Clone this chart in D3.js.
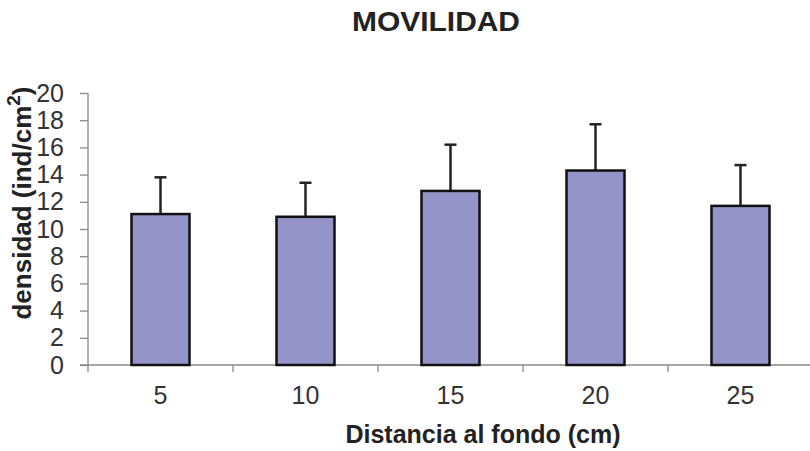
<!DOCTYPE html>
<html>
<head>
<meta charset="utf-8">
<script src="https://cdn.jsdelivr.net/npm/d3@7"></script>
<style>
  html, body { margin: 0; padding: 0; background: #fff; }
  svg { display: block; font-family: "Liberation Sans", Arial, sans-serif; }
</style>
</head>
<body>
<svg id="chart" width="810" height="451"></svg>
<script>
const categories = ["5", "10", "15", "20", "25"];
const values = [11.1, 10.9, 12.8, 14.3, 11.7];
const errors = [2.7, 2.5, 3.4, 3.4, 3.0];
const yTicks = [0, 2, 4, 6, 8, 10, 12, 14, 16, 18, 20];

(function () {
const svg = d3.select("#chart");
const plotLeft = 88, plotRight = 813, plotTop = 93, plotBottom = 365;

const xBand = d3.scaleBand().domain(categories).range([plotLeft, plotRight]).paddingInner(0).paddingOuter(0);
const xBar = d3.scaleBand().domain(categories).range([plotLeft, plotRight]).paddingInner(0.6).paddingOuter(0.3);
const y = d3.scaleLinear().domain([0, 20]).range([plotBottom, plotTop]);

// Title
svg.append("text")
  .attr("x", 436).attr("y", 31)
  .attr("text-anchor", "middle")
  .attr("font-size", 28).attr("font-weight", "bold")
  .attr("fill", "#222")
  .attr("textLength", 168).attr("lengthAdjust", "spacingAndGlyphs")
  .text("MOVILIDAD");

// Y axis
const yAxis = svg.append("g")
  .attr("transform", `translate(${plotLeft},0)`)
  .call(d3.axisLeft(y).tickValues(yTicks).tickSize(8).tickPadding(16).tickFormat(d3.format("d")));
yAxis.select(".domain").attr("stroke", "#8a8a8a").attr("stroke-width", 1.3)
  .attr("d", `M0,${plotTop}V${plotBottom}`);
yAxis.selectAll(".tick line").attr("stroke", "#8a8a8a").attr("stroke-width", 1.3);
yAxis.selectAll(".tick text").attr("font-size", 25).attr("fill", "#333")
  .attr("font-family", "'Liberation Sans', Arial, sans-serif");

// X axis (labels)
const xAxis = svg.append("g")
  .attr("transform", `translate(0,${plotBottom})`)
  .call(d3.axisBottom(xBand).tickSize(0).tickPadding(21));
xAxis.select(".domain").attr("stroke", "#8a8a8a").attr("stroke-width", 1.3)
  .attr("d", `M${plotLeft - 8},0H810`);
xAxis.selectAll(".tick text").attr("font-size", 25).attr("fill", "#333")
  .attr("font-family", "'Liberation Sans', Arial, sans-serif");

// X boundary ticks
const boundaries = categories.map(c => xBand(c));
svg.append("g").selectAll("line").data(boundaries).join("line")
  .attr("x1", d => d).attr("x2", d => d)
  .attr("y1", plotBottom).attr("y2", plotBottom + 7)
  .attr("stroke", "#8a8a8a").attr("stroke-width", 1.3);

// Error bars
const eb = svg.append("g");
categories.forEach((c, i) => {
  const cx = xBar(c) + xBar.bandwidth() / 2;
  eb.append("line")
    .attr("x1", cx).attr("x2", cx)
    .attr("y1", y(values[i])).attr("y2", y(values[i] + errors[i]))
    .attr("stroke", "#222").attr("stroke-width", 2.5);
  eb.append("line")
    .attr("x1", cx - 6).attr("x2", cx + 6)
    .attr("y1", y(values[i] + errors[i])).attr("y2", y(values[i] + errors[i]))
    .attr("stroke", "#222").attr("stroke-width", 2.5);
});

// Bars
svg.append("g").selectAll("rect").data(values).join("rect")
  .attr("x", (d, i) => xBar(categories[i]))
  .attr("y", d => y(d))
  .attr("width", xBar.bandwidth())
  .attr("height", d => y(0) - y(d))
  .attr("fill", "#9494c8")
  .attr("stroke", "#111").attr("stroke-width", 2.5);

// X axis title
svg.append("text")
  .attr("x", 483).attr("y", 443)
  .attr("text-anchor", "middle")
  .attr("font-size", 25).attr("font-weight", "bold")
  .attr("fill", "#222")
  .text("Distancia al fondo (cm)");

// Y axis title
const yt = svg.append("text")
  .attr("transform", "translate(31,203) rotate(-90)")
  .attr("text-anchor", "middle")
  .attr("font-size", 26).attr("font-weight", "bold")
  .attr("fill", "#222");
yt.append("tspan").text("densidad (ind/cm");
yt.append("tspan").attr("font-size", 19).attr("dy", -11).text("2");
yt.append("tspan").attr("dy", 11).text(")");
})();
</script>
</body>
</html>
